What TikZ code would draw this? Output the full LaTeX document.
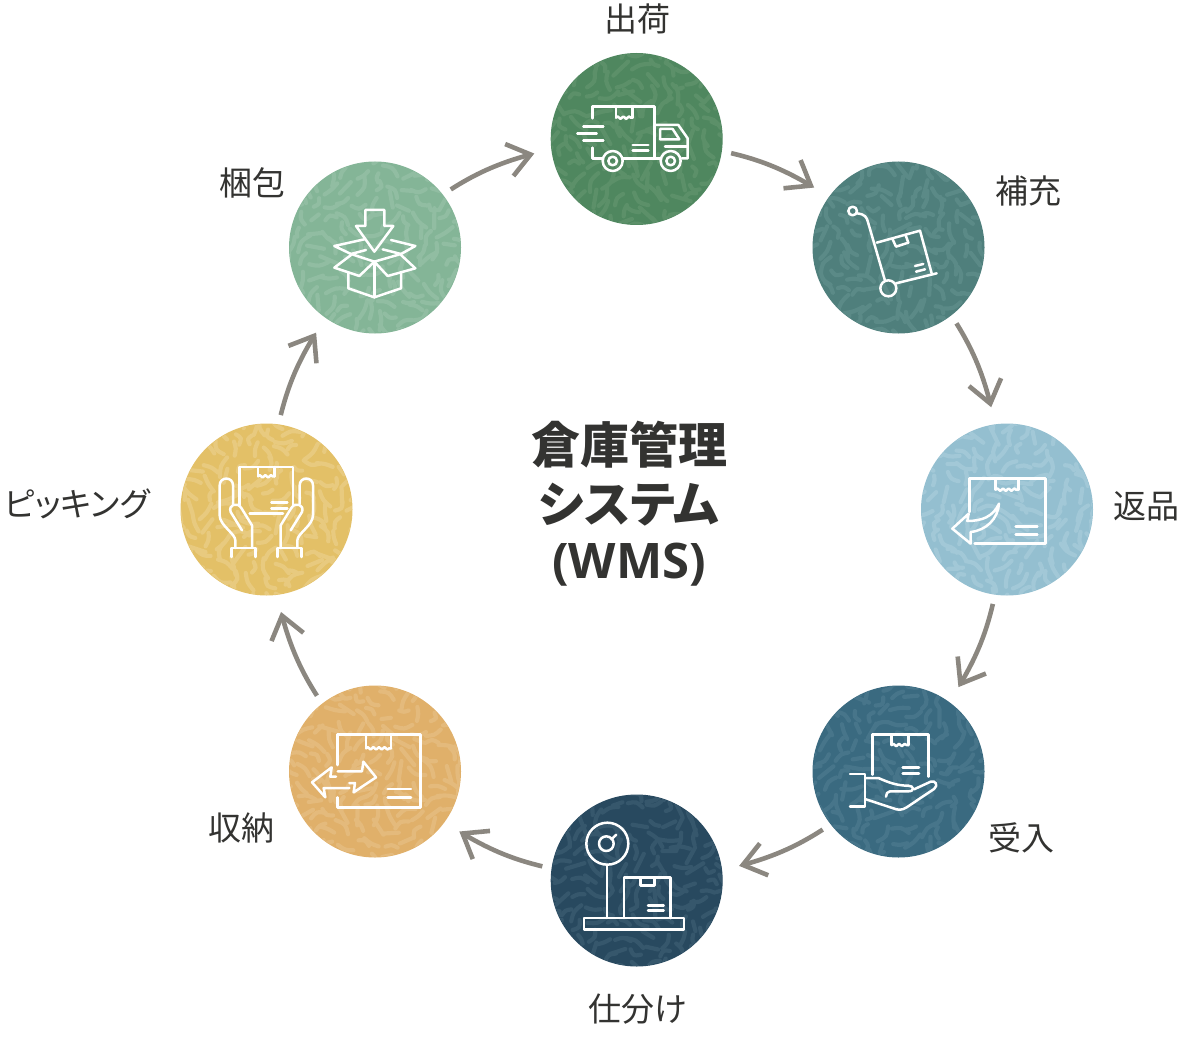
\documentclass[tikz,border=0pt]{standalone}
\usepackage{fontspec}
\usetikzlibrary{arrows.meta,decorations.pathmorphing,bending}
\newfontfamily\cjkreg{Noto Sans CJK JP}
\newfontfamily\cjkpalt[RawFeature=+palt]{Noto Sans CJK JP}
\newfontfamily\latinb[BoldFont={Open Sans Bold}]{Open Sans}
\definecolor{ink}{HTML}{333331}
\definecolor{flowc}{HTML}{8B8780}
\definecolor{ca}{HTML}{4F875F}\definecolor{sa}{HTML}{5C9069}
\definecolor{cb}{HTML}{4F7F7C}\definecolor{sb}{HTML}{5B8A87}
\definecolor{cc}{HTML}{94BFD0}\definecolor{sc}{HTML}{A2C8D7}
\definecolor{cd}{HTML}{3A6A80}\definecolor{sd}{HTML}{47758A}
\definecolor{ce}{HTML}{28495F}\definecolor{se}{HTML}{36576C}
\definecolor{cf}{HTML}{E0B06A}\definecolor{sf}{HTML}{E4BA7C}
\definecolor{cg}{HTML}{E3C067}\definecolor{sg}{HTML}{E8CA7F}
\definecolor{ch}{HTML}{84B597}\definecolor{sh}{HTML}{91BDA2}
\tikzset{
  disc/.style={circle,minimum size=172pt,inner sep=0pt,outer sep=0pt,fill=#1},
  flow/.style={draw=flowc,line width=4.6pt,shorten <=9.5pt,shorten >=18pt,bend left=10,
     -{Straight Barb[length=22pt,width=33pt,line cap=butt,line join=miter]}},
  lab/.style={text=ink,inner sep=0pt,font=\fontsize{33}{40}\selectfont\cjkreg},
  ttl/.style={text=ink,inner sep=0pt,font=\fontsize{49}{59}\selectfont\cjkreg\bfseries},
  ic/.style={draw=white,line width=2.5pt,line join=round,line cap=round},
  icsnake/.style={ic,decorate,decoration={snake,amplitude=1.2pt,segment length=5.6pt}},
}
\newcommand\speckle[3]{%
  \begin{scope}[shift={(#1)}]
    \clip (0,0) circle (85.5);
    \pgfmathsetseed{#2}
    \foreach \i in {-6,...,6}{\foreach \j in {-6,...,6}{
      \pgfmathsetmacro\px{\i*14.5+rand*5}
      \pgfmathsetmacro\py{\j*14.5+rand*5}
      \pgfmathsetmacro\ang{#2*37+70*sin(\i*40+#2*20)+60*cos(\j*35)+rand*28}
      \pgfmathsetmacro\len{4.5+rnd*6}
      \pgfmathsetmacro\bnd{rand*5}
      \pgfmathsetmacro\dx{\len*cos(\ang)}
      \pgfmathsetmacro\dy{\len*sin(\ang)}
      \draw[line width=4.2pt,line cap=round,draw=#3]
        (\px-\dx,\py-\dy) .. controls (\px-\dy*\bnd/\len,\py+\dx*\bnd/\len) .. (\px+\dx,\py+\dy);
    }}
  \end{scope}}
\begin{document}
\begin{tikzpicture}[x=1pt,y=-1pt]
\useasboundingbox (0,0) rectangle (1180,1059);
% discs
\node[disc=ca] (n1) at (636.7,139) {};
\node[disc=cb] (n2) at (898.5,247.5) {};
\node[disc=cc] (n3) at (1007,509.5) {};
\node[disc=cd] (n4) at (898.5,771.5) {};
\node[disc=ce] (n5) at (636.7,880.5) {};
\node[disc=cf] (n6) at (375,771.5) {};
\node[disc=cg] (n7) at (266.5,509.5) {};
\node[disc=ch] (n8) at (375,247.5) {};
\speckle{n1}{1}{sa}
\speckle{n2}{2}{sb}
\speckle{n3}{3}{sc}
\speckle{n4}{4}{sd}
\speckle{n5}{5}{se}
\speckle{n6}{6}{sf}
\speckle{n7}{7}{sg}
\speckle{n8}{8}{sh}
% connectors
\draw[flow] (n8.38) to (n1.187);
\draw[flow] (n1.-8) to (n2.144);
\draw[flow] (n2.-52) to (n3.98);
\draw[flow] (n3.-98) to (n4.54);
\draw[flow] (n4.218) to (n5.7);
\draw[flow] (n5.172) to (n6.-36);
\draw[flow] (n6.128) to (n7.-83);
\draw[flow] (n7.82.5) to (n8.235);
% labels
\node[lab] (l1) at (637,19) {出荷};
\node[lab] (l2) at (1028,191) {補充};
\node[lab] (l3) at (1146,506) {返品};
\node[lab] (l4) at (1021,838) {受入};
\node[lab] (l5) at (638,1009) {仕分け};
\node[lab] (l6) at (241,828) {収納};
\node[lab] (l7) at (77,504) {\cjkpalt ピッキング};
\node[lab] (l8) at (252,183) {梱包};
\node[ttl] (t1) at (629,445) {倉庫管理};
\node[ttl] (t2) at (629,505) {\cjkpalt\bfseries システム};
\node[ttl] (t3) at (629,565) {\latinb\bfseries (WMS)};
% icon 1: truck
\begin{scope}[shift={(550,50)},x=.33333pt,y=-.33333pt]
  \draw[ic] (127,205) -- (127,170) -- (313,170) -- (313,325) -- (220,325);
  \draw[ic] (127,293) -- (127,325) -- (157,325);
  \draw[ic] (198,170) -- (198,203);
  \draw[ic] (248,170) -- (248,203);
  \draw[icsnake] (198,203) -- (248,203);
  \draw[ic] (100,230) -- (160,230) (82,250) -- (140,250) (100,272) -- (160,272);
  \draw[ic] (248,285) -- (295,285) (248,302) -- (295,302);
  \draw[ic] (313,225) -- (385,225) -- (413,265) -- (413,325) -- (395,325);
  \draw[ic] (330,237) -- (368,237) -- (388,268) -- (330,268) -- cycle;
  \draw[ic] (345,290) -- (413,290);
  \draw[ic] (313,325) -- (330,325);
  \draw[ic] (188,333) circle (30) (188,333) circle (13);
  \draw[ic] (362,333) circle (30) (362,333) circle (13);
\end{scope}
% icon 2: hand truck
\begin{scope}[shift={(810,160)},x=.33333pt,y=-.33333pt]
  \draw[ic] (128,153) circle (13);
  \draw[ic] (141,160) .. controls (165,163) and (170,170) .. (175,190) -- (225,362);
  \draw[ic] (235,385) circle (24);
  \draw[ic] (258,370) -- (380,340);
  \draw[ic] (200,248) -- (330,212) -- (365,340);
  \draw[ic] (248,238) -- (258,260) -- (295,248) -- (287,226);
  \draw[ic] (315,318) -- (340,312) (318,335) -- (345,328);
\end{scope}
% icon 3: return
\begin{scope}[shift={(918,422)},x=.33333pt,y=-.33333pt]
  \draw[ic] (155,270) -- (155,170) -- (382,170) -- (382,365) -- (170,365);
  \draw[ic] (233,170) -- (233,203);
  \draw[ic] (302,170) -- (302,203);
  \draw[icsnake] (233,203) -- (302,203);
  \draw[ic] (293,313) -- (358,313) (293,337) -- (358,337);
  \draw[ic] (103,320) -- (152,275) -- (148,297) .. controls (190,297) and (225,285) .. (243,245)
     .. controls (240,290) and (205,325) .. (158,330) -- (158,365) -- cycle;
\end{scope}
% icon 4: hand with box
\begin{scope}[shift={(810,684)},x=.33333pt,y=-.33333pt]
  \draw[ic] (187,272) -- (187,152) -- (355,152) -- (355,278);
  \draw[ic] (245,152) -- (245,183);
  \draw[ic] (295,152) -- (295,183);
  \draw[icsnake] (245,183) -- (295,183);
  \draw[ic] (278,250) -- (327,250) (278,268) -- (327,268);
  \draw[ic] (120,270) -- (165,270) -- (165,367) -- (120,367);
  \draw[ic] (165,282) -- (205,282) .. controls (235,295) and (260,305) .. (295,305)
     .. controls (312,305) and (315,322) .. (295,322) -- (240,322) .. controls (232,322) and (228,330) .. (228,338);
  \draw[ic] (312,316) -- (362,293) .. controls (378,288) and (385,305) .. (372,315)
     -- (290,370) .. controls (275,380) and (262,378) .. (250,373) -- (165,345);
\end{scope}
% icon 5: scale
\begin{scope}[shift={(548,792)},x=.33333pt,y=-.33333pt]
  \draw[ic] (178,155) circle (63);
  \draw[ic] (175,155) circle (22);
  \draw[ic] (190,142) -- (205,128);
  \draw[ic] (177,218) -- (177,378);
  \draw[ic] (108,378) rectangle (408,412);
  \draw[ic] (228,378) -- (228,257) -- (367,257) -- (367,378);
  \draw[ic] (277,257) -- (277,280) -- (320,280) -- (320,257);
  \draw[ic] (300,340) -- (347,340) (300,356) -- (347,356);
\end{scope}
% icon 6: transfer
\begin{scope}[shift={(286,684)},x=.33333pt,y=-.33333pt]
  \draw[ic] (155,243) -- (155,152) -- (403,152) -- (403,370) -- (155,370) -- (155,340);
  \draw[ic] (240,152) -- (240,193);
  \draw[ic] (315,152) -- (315,193);
  \draw[icsnake] (240,193) -- (315,193);
  \draw[ic] (305,315) -- (375,315) (305,340) -- (375,340);
  \draw[ic] (155,262) -- (228,262) -- (232,233) -- (270,280) -- (203,325) -- (207,297) -- (190,297);
  \draw[ic] (150,278) -- (133,278) -- (137,250) -- (78,295) -- (118,340) -- (113,312) -- (190,312);
\end{scope}
% icon 7: two hands
\begin{scope}[shift={(178,422)},x=.33333pt,y=-.33333pt]
  \draw[ic] (185,250) -- (185,135) -- (345,135) -- (345,250);
  \draw[ic] (215,275) -- (315,275);
  \draw[ic] (240,135) -- (240,163);
  \draw[ic] (290,135) -- (290,163);
  \draw[icsnake] (240,163) -- (290,163);
  \draw[ic] (280,242) -- (328,242) (280,260) -- (328,260);
  \foreach \m/\o in {1/0,-1/530}{
    \begin{scope}[shift={(\o,0)},xscale=\m]
    \draw[ic] (160,405) -- (160,378) -- (232,378) -- (232,405);
    \draw[ic] (172,378) -- (172,355) .. controls (172,335) and (125,310) .. (125,280) -- (125,190)
       .. controls (125,163) and (165,163) .. (165,190) -- (165,245);
    \draw[ic] (192,325) -- (158,270) .. controls (150,248) and (178,238) .. (190,258) -- (222,310) -- (222,378);
    \end{scope}
  }
\end{scope}
% icon 8: box with arrow
\begin{scope}[shift={(286,160)},x=.33333pt,y=-.33333pt]
  \draw[ic] (238,150) -- (295,150) -- (295,198) -- (322,198) -- (265,275) -- (210,198) -- (238,198) -- cycle;
  \draw[ic] (187,340) -- (187,385) -- (265,412) -- (345,385) -- (345,340);
  \draw[ic] (265,305) -- (265,412);
  \draw[ic] (240,270) -- (195,282) -- (265,305) -- (345,282) -- (290,268);
  \draw[ic] (195,282) -- (145,258) -- (235,238);
  \draw[ic] (315,240) -- (388,258) -- (345,282);
  \draw[ic] (195,285) -- (145,323) -- (220,348) -- (265,305);
  \draw[ic] (345,285) -- (388,325) -- (305,348) -- (265,305);
\end{scope}
\end{tikzpicture}
\end{document}
